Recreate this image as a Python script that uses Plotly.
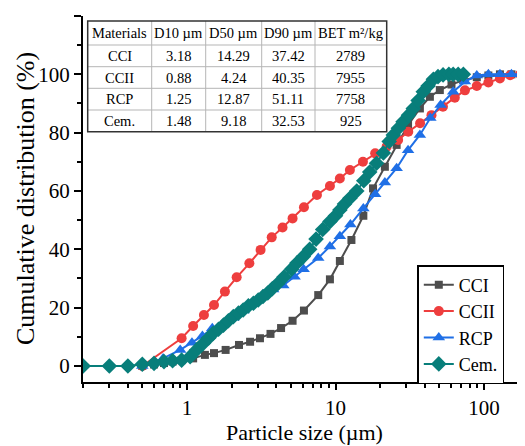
import plotly.graph_objects as go
import math

# ---------------- data ----------------
cci_x = [0.5, 0.6, 0.7, 0.8, 0.92, 1.10, 1.32, 1.52, 1.82, 2.24, 2.66, 3.10, 3.65, 4.3, 5.14, 6.13,
         7.65, 9.17, 10.7, 12.8, 15.4, 17.9, 21.5, 25.8, 30.8, 37.0, 43.2, 50.4, 60.4, 72.6, 89.4,
         107, 128, 153, 179]
cci_y = [0, 0.5, 1.0, 1.5, 2.0, 2.6, 3.8, 4.4, 5.5, 7.2, 8.3, 9.5, 11, 13, 15.5, 19,
         24.3, 29.7, 36, 43.2, 51.5, 60.9, 68.3, 75.8, 82.6, 88.3, 92.3, 94.6, 96.5, 98, 99,
         99.6, 100, 100, 100]

ccii_x = [0.5, 0.92, 1.10, 1.30, 1.52, 1.80, 2.16, 2.63, 3.13, 3.72, 4.40, 5.14, 6.13, 7.5, 9.17,
          10.7, 12.5, 15.3, 18.5, 22.1, 26.4, 30.9, 37.1, 44.3, 52.9, 63.6, 74.4, 89.4, 107, 128,
          150, 175]
ccii_y = [0, 9.5, 13.7, 17.5, 20.9, 25.5, 30.4, 35.2, 39.8, 44.1, 47.5, 50.6, 54.4, 58.6, 61.7,
          64.3, 67.2, 70, 72.9, 75.2, 77.5, 80.3, 83.2, 86, 88.9, 92, 94.5, 96, 97.2, 98.6,
          99.7, 100]

rcp_x = [0.5, 0.69, 0.9, 1.08, 1.27, 1.48, 1.76, 2.05, 2.4, 2.8, 3.26, 3.8, 4.45, 5.3, 6.1, 7.65,
         9.17, 10.7, 12.6, 15.4, 18.5, 21.5, 25.8, 30.8, 37.0, 43.5, 51.0, 62.0, 74.4, 89.4, 107,
         128, 153, 179]
rcp_y = [0, 2.6, 5.5, 8, 10.3, 12.9, 14.5, 16.5, 19, 21.5, 24.5, 26.2, 27.6, 30.6, 33.2, 37,
         41, 44.5, 48.5, 54, 58.9, 62.9, 67.8, 74, 79.2, 85, 89.5, 94, 97.5, 99.6, 100,
         100, 100, 100]

cem_x = [0.2, 0.3, 0.4, 0.5, 0.6, 0.7, 0.8, 0.92, 1.05, 1.16, 1.29, 1.4, 1.5, 1.63, 1.76, 1.9, 2.05,
         2.22, 2.39, 2.59, 2.8, 3.02, 3.25, 3.5, 3.75, 4.06, 4.5, 5.06, 5.5, 6.07, 6.7, 7.4, 8.2,
         9.17, 10.0, 10.7, 11.5, 12.5, 13.9, 15.5, 17.0, 18.9, 21.0, 23.0, 24.5, 26.5, 28.5,
         31.0, 33.4, 36.0, 39.0, 42.0, 45.6, 49.0, 53.0, 58.0, 62.0, 67.0, 72.6]
cem_y = [0, 0, 0, 0.6, 0.9, 1.5, 1.8, 2.0, 3.2, 5.5, 7.8, 9.6, 11.2, 12.6, 14, 15.5, 16.9,
         18.1, 19.2, 20.6, 21.5, 22.6, 23.8, 25, 26.5, 28.1, 30.5, 33.2, 35.3, 37.5, 40, 43.5, 46.8,
         49.5, 51.5, 53.5, 55.5, 57.5, 60, 63.5, 66.5, 69.5, 73, 77, 79.2, 81.5, 83.7,
         86, 88.3, 91, 94, 96, 98.3, 99.2, 99.8, 100, 100, 100, 100]

series_names = ["CCI", "CCII", "RCP", "Cem."]

table_header = ["Materials", "D10 µm", "D50 µm", "D90 µm", "BET m²/kg"]
table_materials = ["CCI", "CCII", "RCP", "Cem."]
table_d10 = ["3.18", "0.88", "1.25", "1.48"]
table_d50 = ["14.29", "4.24", "12.87", "9.18"]
table_d90 = ["37.42", "40.35", "51.11", "32.53"]
table_bet = ["2789", "7955", "7758", "925"]

x_ticks = [1, 10, 100]
y_ticks = [0, 20, 40, 60, 80, 100, 120]
x_title = "Particle size (µm)"
y_title = "Cumulative distribution (%)"

# ---------------- figure ----------------
# The page body keeps its default 8 px margin, so the figure is 8 px smaller
# than the window and every reference pixel position is shifted by 8 px.
OFF = 8
W, H = 525 - OFF, 446 - OFF
AX_L, AX_T, AX_B, AX_R = 83, 16, 382, 525          # plot area in window pixels
ML, MT = AX_L - OFF, AX_T - OFF
MR, MB = (525 - AX_R), (446 - AX_B)
PW, PH = W - ML - MR, H - MT - MB
FONT = "Liberation Serif"

def px(xw):
    return (xw - AX_L) / PW

def py(yw):
    return (AX_B - yw) / PH

colors = ["#4d4d4d", "#EE3E3E", "#1F6FE6", "#087E7A"]
symbols = ["square", "circle", "triangle-up", "diamond"]
sizes = [8, 10, 11, 12]
xs = [cci_x, ccii_x, rcp_x, cem_x]
ys = [cci_y, ccii_y, rcp_y, cem_y]

fig = go.Figure()
for name, x, y, c, s, sz in zip(series_names, xs, ys, colors, symbols, sizes):
    fig.add_trace(go.Scatter(
        x=x, y=y, name=name, mode="lines+markers",
        line=dict(color=c, width=2),
        marker=dict(symbol=s, size=sz, color=c, line=dict(width=0)),
        cliponaxis=True,
    ))

fig.update_xaxes(
    type="log", range=[math.log10(0.1994), 2.276],
    tickvals=x_ticks, ticktext=[str(v) for v in x_ticks],
    ticks="outside", ticklen=6, tickwidth=2, tickcolor="black",
    showline=True, linecolor="black", linewidth=2, mirror=False,
    showgrid=False, zeroline=False,
    minor=dict(tickvals=[0.2, 0.3, 0.4, 0.5, 0.6, 0.7, 0.8, 0.9,
                         2, 3, 4, 5, 6, 7, 8, 9, 20, 30, 40, 50, 60, 70, 80, 90],
               ticks="outside", ticklen=4, tickwidth=1.5, tickcolor="black", showgrid=False),
    tickfont=dict(family=FONT, size=21, color="black"),
)
fig.update_yaxes(
    range=[-5.5, 120],
    tickvals=y_ticks,
    ticks="outside", ticklen=7, tickwidth=2, tickcolor="black",
    showline=True, linecolor="black", linewidth=2, mirror=False,
    showgrid=False, zeroline=False,
    minor=dict(tickvals=[10, 30, 50, 70, 90, 110],
               ticks="outside", ticklen=4, tickwidth=1.5, tickcolor="black", showgrid=False),
    tickfont=dict(family=FONT, size=21, color="black"),
)

# ---------------- table (shapes + text) ----------------
col_edges = [87.7, 151.7, 205.7, 261.7, 315.0, 386.7]
row_edges = [21.0, 45.0, 66.7, 88.3, 110.0, 131.7]
shapes = []
shapes.append(dict(type="rect", xref="paper", yref="paper",
                   x0=px(col_edges[0]), x1=px(col_edges[-1]),
                   y0=py(row_edges[-1]), y1=py(row_edges[0]),
                   fillcolor="white", line=dict(width=0), layer="above"))
for xe in col_edges[1:-1]:
    shapes.append(dict(type="line", xref="paper", yref="paper",
                       x0=px(xe), x1=px(xe), y0=py(row_edges[-1]), y1=py(row_edges[0]),
                       line=dict(color="#b5b5b5", width=1), layer="above"))
for ye in row_edges[1:-1]:
    shapes.append(dict(type="line", xref="paper", yref="paper",
                       x0=px(col_edges[0]), x1=px(col_edges[-1]), y0=py(ye), y1=py(ye),
                       line=dict(color="#b5b5b5", width=1), layer="above"))
shapes.append(dict(type="rect", xref="paper", yref="paper",
                   x0=px(col_edges[0]), x1=px(col_edges[-1]),
                   y0=py(row_edges[-1]), y1=py(row_edges[0]),
                   line=dict(color="#333333", width=1.5), layer="above"))

annotations = []
columns = [table_materials, table_d10, table_d50, table_d90, table_bet]
for ci, (head, col) in enumerate(zip(table_header, columns)):
    xc = px((col_edges[ci] + col_edges[ci + 1]) / 2)
    cells = [head] + col
    for ri, txt in enumerate(cells):
        yc = py((row_edges[ri] + row_edges[ri + 1]) / 2)
        annotations.append(dict(text=txt, x=xc, y=yc, xref="paper", yref="paper",
                                xanchor="center", yanchor="middle", showarrow=False,
                                font=dict(family=FONT, size=14.5, color="black")))

# axis titles
annotations.append(dict(text=x_title, x=0.5, y=py(432), xref="paper", yref="paper",
                        xanchor="center", yanchor="middle", showarrow=False,
                        font=dict(family=FONT, size=22, color="black")))
annotations.append(dict(text=y_title, x=px(25), y=0.5, xref="paper", yref="paper",
                        xanchor="center", yanchor="middle", showarrow=False, textangle=-90,
                        font=dict(family=FONT, size=26, color="black")))

fig.update_layout(
    width=W, height=H,
    margin=dict(l=ML, r=MR, t=MT, b=MB),
    plot_bgcolor="white", paper_bgcolor="white",
    shapes=shapes, annotations=annotations,
    showlegend=True,
    legend=dict(x=px(417.3), y=py(265), xanchor="left", yanchor="top",
                bgcolor="white", bordercolor="black", borderwidth=1.5,
                font=dict(family=FONT, size=18, color="black"),
                itemwidth=30, tracegroupgap=0),
)

fig.write_html("out.html")
